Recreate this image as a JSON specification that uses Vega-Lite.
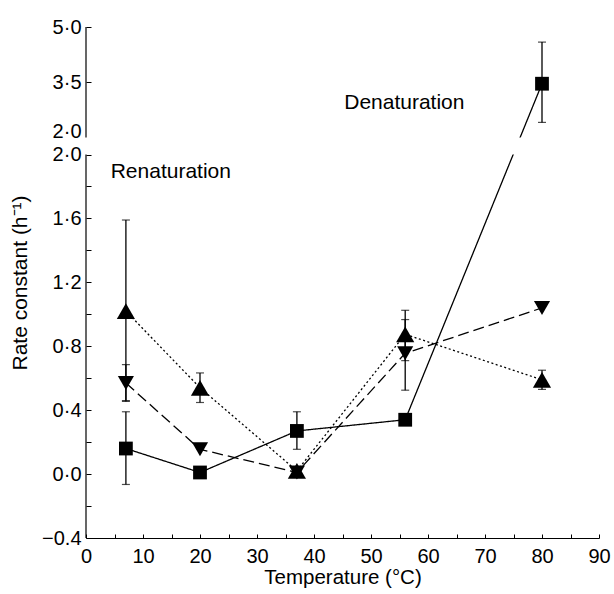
{
  "$schema": "https://vega.github.io/schema/vega-lite/v6.json",
  "width": 513,
  "height": 511,
  "autosize": "none",
  "padding": {"left": 86, "top": 27, "right": 15, "bottom": 56},
  "background": "white",
  "config": {
    "view": {"stroke": null},
    "font": "Liberation Sans",
    "axis": {
      "grid": false,
      "domainColor": "black",
      "tickColor": "black",
      "labelColor": "black",
      "titleColor": "black",
      "labelFont": "Liberation Sans",
      "titleFont": "Liberation Sans",
      "labelFontSize": 20,
      "titleFontSize": 21,
      "titleFontWeight": "normal",
      "labelFlush": false,
      "labelOverlap": false,
      "tickCount": 200,
      "zindex": 1
    }
  },
  "datasets": {
    "points": [
      {"series": "square", "T": 7, "v": 0.16, "lo": -0.065, "hi": 0.39},
      {"series": "square", "T": 20, "v": 0.01},
      {"series": "square", "T": 37, "v": 0.27, "lo": 0.155, "hi": 0.39},
      {"series": "square", "T": 56, "v": 0.34},
      {"series": "square", "T": 80, "v": 3.46, "lo": 2.41, "hi": 4.59},
      {"series": "down", "T": 7, "v": 0.57, "lo": 0.455, "hi": 0.685},
      {"series": "down", "T": 20, "v": 0.155},
      {"series": "down", "T": 37, "v": 0.01},
      {"series": "down", "T": 56, "v": 0.756, "lo": 0.525, "hi": 0.967},
      {"series": "down", "T": 80, "v": 1.04},
      {"series": "up", "T": 7, "v": 1.02, "lo": 0.46, "hi": 1.59},
      {"series": "up", "T": 20, "v": 0.54, "lo": 0.448, "hi": 0.633},
      {"series": "up", "T": 37, "v": 0.02},
      {"series": "up", "T": 56, "v": 0.875, "lo": 0.71, "hi": 1.025},
      {"series": "up", "T": 80, "v": 0.59, "lo": 0.53, "hi": 0.65}
    ],
    "labels": [
      {"text": "Renaturation", "T": 4.33, "v": 1.89},
      {"text": "Denaturation", "T": 45.3, "v": 2.93}
    ]
  },
  "layer": [
    {
      "data": {"name": "points"},
      "mark": {"type": "line", "color": "black", "strokeWidth": 1.3},
      "encoding": {
        "x": {
          "field": "T", "type": "quantitative",
          "scale": {"domain": [0, 90], "nice": false, "zero": false},
          "axis": {
            "values": [0, 5, 10, 15, 20, 25, 30, 35, 40, 45, 50, 55, 60, 65, 70, 75, 80, 85, 90],
            "labelExpr": "datum.value % 10 == 0 ? format(datum.value, 'd') : ''",
            "tickSize": -4,
            "tickCount": 200,
            "labelPadding": 12,
            "title": "Temperature (°C)",
            "titleFontSize": 20.5,
            "titlePadding": 1
          }
        },
        "y": {
          "field": "v", "type": "quantitative",
          "scale": {"domain": [-0.4, 2, 2.0001, 5], "range": [511, 127.5, 110.5, 0], "nice": false, "zero": false},
          "axis": {
            "values": [-0.4, -0.2, 0, 0.2, 0.4, 0.6, 0.8, 1.0, 1.2, 1.4, 1.6, 1.8, 2, 2.0001, 3.5, 5],
            "labelExpr": "datum.value == -0.4 ? '−0.4' : datum.value == 0 ? '0·0' : datum.value == 0.4 ? '0·4' : datum.value == 0.8 ? '0·8' : datum.value == 1.2 ? '1·2' : datum.value == 1.6 ? '1·6' : (datum.value == 2 || datum.value == 2.0001) ? '2·0' : datum.value == 3.5 ? '3·5' : datum.value == 5 ? '5·0' : ''",
            "labelBaseline": {"condition": {"test": "datum.value == 2.0001", "value": "alphabetic"}, "value": "middle"},
            "tickSize": -5,
            "tickCount": 200,
            "labelPadding": 10,
            "domain": false,
            "title": "Rate constant (h⁻¹)",
            "titlePadding": 11
          }
        },
        "detail": {"field": "series"},
        "strokeDash": {
          "field": "series", "type": "nominal",
          "scale": {"domain": ["square", "down", "up"], "range": [[1, 0], [11, 5], [2, 2.5]]},
          "legend": null
        }
      }
    },
    {
      "data": {"name": "points"},
      "transform": [{"filter": "isValid(datum.lo)"}],
      "mark": {"type": "rule", "color": "black", "strokeWidth": 1.3},
      "encoding": {
        "x": {"field": "T", "type": "quantitative"},
        "y": {"field": "lo", "type": "quantitative"},
        "y2": {"field": "hi"}
      }
    },
    {
      "data": {"name": "points"},
      "transform": [
        {"fold": ["lo", "hi"], "as": ["end", "ev"]},
        {"filter": "isValid(datum.ev)"}
      ],
      "mark": {"type": "tick", "orient": "horizontal", "size": 8, "thickness": 1.2, "color": "black"},
      "encoding": {
        "x": {"field": "T", "type": "quantitative"},
        "y": {"field": "ev", "type": "quantitative"}
      }
    },
    {
      "data": {"name": "points"},
      "mark": {"type": "point", "filled": true, "opacity": 1, "color": "black", "strokeWidth": 0},
      "encoding": {
        "x": {"field": "T", "type": "quantitative"},
        "y": {"field": "v", "type": "quantitative"},
        "shape": {
          "field": "series", "type": "nominal",
          "scale": {"domain": ["square", "down", "up"], "range": ["square", "triangle-down", "triangle-up"]},
          "legend": null
        },
        "size": {
          "field": "series", "type": "nominal",
          "scale": {"domain": ["square", "down", "up"], "range": [190, 330, 330]},
          "legend": null
        }
      }
    },
    {
      "data": {"values": [{}]},
      "mark": {"type": "rect", "color": "white"},
      "encoding": {
        "y": {"datum": 2},
        "y2": {"datum": 2.0001}
      }
    },
    {
      "data": {"values": [{}]},
      "mark": {"type": "rule", "color": "black", "strokeWidth": 1.2},
      "encoding": {
        "x": {"datum": 0},
        "y": {"datum": -0.4},
        "y2": {"datum": 2}
      }
    },
    {
      "data": {"values": [{}]},
      "mark": {"type": "rule", "color": "black", "strokeWidth": 1.2},
      "encoding": {
        "x": {"datum": 0},
        "y": {"datum": 2.0001},
        "y2": {"datum": 5}
      }
    },
    {
      "data": {"name": "labels"},
      "mark": {"type": "text", "align": "left", "baseline": "middle", "fontSize": 21, "color": "black", "font": "Liberation Sans"},
      "encoding": {
        "x": {"field": "T", "type": "quantitative"},
        "y": {"field": "v", "type": "quantitative"},
        "text": {"field": "text"}
      }
    }
  ]
}
